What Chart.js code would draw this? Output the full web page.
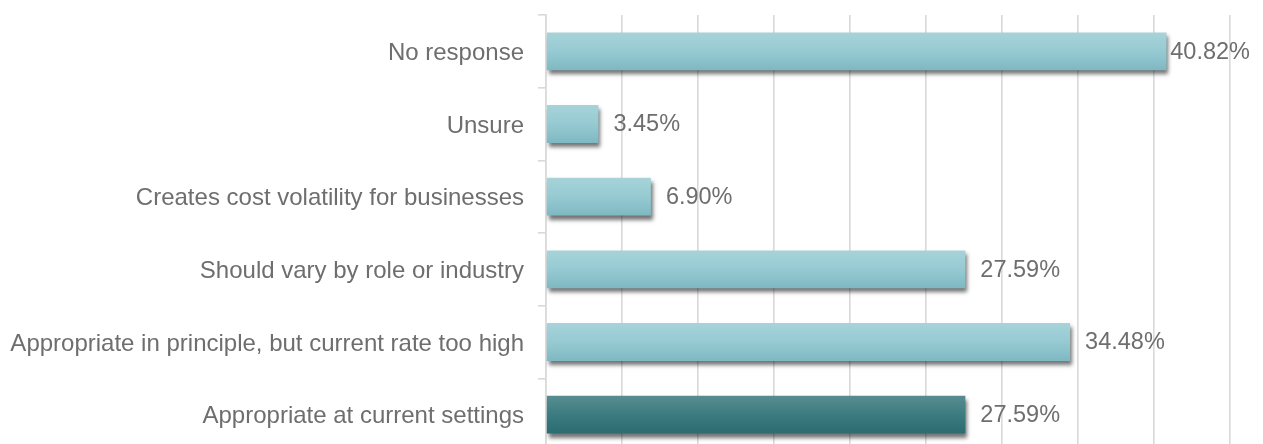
<!DOCTYPE html>
<html>
<head>
<meta charset="utf-8">
<script src="https://cdn.jsdelivr.net/npm/chart.js@4/dist/chart.umd.min.js"></script>
<style>
  html, body { margin: 0; padding: 0; background: #fff; overflow: hidden; }
  #wrap { width: 1263px; height: 451px; }
</style>
</head>
<body>
<div id="wrap"><canvas id="chart" width="1263" height="451"></canvas></div>
<script>
// ─── DATA ─────────────────────────────────────────────────────────────────────

const categories = [
  'No response',
  'Unsure',
  'Creates cost volatility for businesses',
  'Should vary by role or industry',
  'Appropriate in principle, but current rate too high',
  'Appropriate at current settings',
];
const shares = [40.82, 3.45, 6.90, 27.59, 34.48, 27.59];
const highlighted = [false, false, false, false, false, true];
const xTicks = [0, 5, 10, 15, 20, 25, 30, 35, 40, 45];

// ─── STYLE ────────────────────────────────────────────────────────────────────

const FONT = 'Liberation Sans, Arial, sans-serif';
const TEXT = '#6e6e6e';
const GRID = '#d9d9d9';
const BAR_PCT = 0.52;

const LIGHT = ['#a7d3d9', '#96cad2', '#7fb8c2'];
const DARK  = ['#578d90', '#3c7c80', '#2a6c72'];

function barFill(ctx) {
  const chart = ctx.chart;
  const y = chart.scales.y;
  const stops = highlighted[ctx.dataIndex] ? DARK : LIGHT;
  if (!y || !chart.chartArea) return stops[1];
  const yc = y.getPixelForValue(ctx.dataIndex);
  const half = (y.height / categories.length) * BAR_PCT / 2;
  const g = chart.ctx.createLinearGradient(0, yc - half, 0, yc + half);
  g.addColorStop(0, stops[0]);
  g.addColorStop(0.5, stops[1]);
  g.addColorStop(1, stops[2]);
  return g;
}

function noPadding(s) {
  s.paddingTop = 0;
  s.paddingBottom = 0;
  s.paddingLeft = 0;
  s.paddingRight = 0;
}

// soft drop shadow under the bars
const barShadow = {
  id: 'barShadow',
  beforeDatasetDraw(chart) {
    const c = chart.ctx;
    c.save();
    c.shadowColor = 'rgba(0,0,0,0.55)';
    c.shadowOffsetX = 2;
    c.shadowOffsetY = 4;
    c.shadowBlur = 4;
  },
  afterDatasetDraw(chart) {
    chart.ctx.restore();
  }
};

// percentage labels to the right of each bar
const valueLabels = {
  id: 'valueLabels',
  afterDatasetsDraw(chart) {
    const c = chart.ctx;
    const meta = chart.getDatasetMeta(0);
    c.save();
    c.font = '23.5px ' + FONT;
    c.fillStyle = TEXT;
    c.textAlign = 'left';
    c.textBaseline = 'middle';
    meta.data.forEach((bar, i) => {
      const txt = shares[i].toFixed(2) + '%';
      const w = c.measureText(txt).width;
      let x = bar.x + 15;
      if (x + w > chart.width - 13) x = chart.width - 13 - w;
      c.fillText(txt, x, bar.y + 1);
    });
    c.restore();
  }
};

new Chart(document.getElementById('chart'), {
  type: 'bar',
  data: {
    labels: categories,
    datasets: [{
      data: shares,
      backgroundColor: barFill,
      borderWidth: 0,
      barPercentage: BAR_PCT,
      categoryPercentage: 1,
    }]
  },
  options: {
    indexAxis: 'y',
    responsive: false,
    animation: false,
    layout: { padding: { top: 15, right: 33, bottom: 0, left: 0 } },
    plugins: {
      legend: { display: false },
      tooltip: { enabled: false },
    },
    scales: {
      x: {
        min: 0,
        max: 45,
        afterBuildTicks: s => { s.ticks = xTicks.map(v => ({ value: v })); },
        ticks: { display: false },
        grid: { color: GRID, lineWidth: 1.6, drawTicks: false },
        border: { display: false },
        afterFit: s => { s.height = 0; noPadding(s); },
      },
      y: {
        offset: true,
        ticks: {
          color: TEXT,
          font: { family: FONT, size: 24 },
          padding: 14,
          labelOffset: 2,
        },
        grid: {
          offset: true,
          drawOnChartArea: false,
          drawTicks: true,
          tickLength: 8,
          color: GRID,
          lineWidth: 1.6,
        },
        border: { display: true, color: GRID, width: 1.6 },
        afterFit: s => { s.width = 546; noPadding(s); },
      }
    }
  },
  plugins: [barShadow, valueLabels]
});
</script>
</body>
</html>
